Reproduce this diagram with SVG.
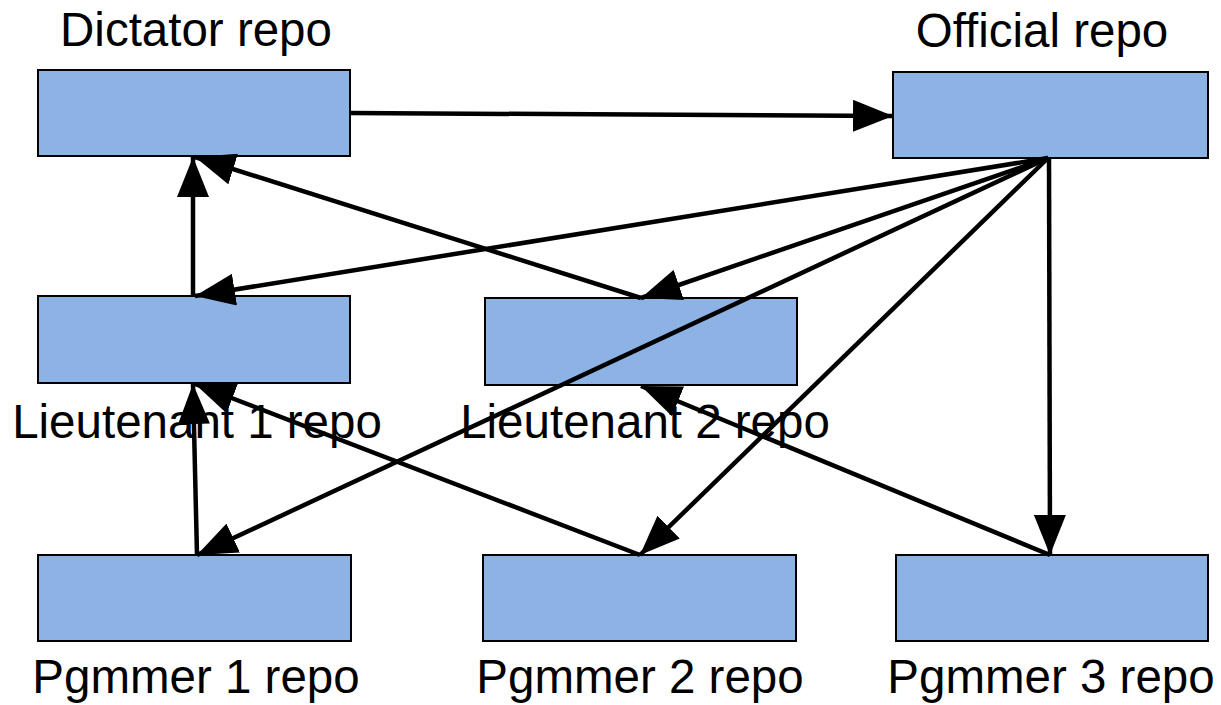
<svg xmlns="http://www.w3.org/2000/svg" width="1221" height="705" viewBox="0 0 1221 705">
<style>
.box{fill:#8db2e4;stroke:#000;stroke-width:2}
.lbl{font-family:"Liberation Sans",Arial,sans-serif;font-size:47.5px;fill:#000;text-anchor:middle}
.c{stroke:#000;stroke-width:4.5;fill:none;marker-end:url(#ah)}
</style>
<defs>
<marker id="ah" viewBox="0 0 40 32" refX="40" refY="16" markerWidth="40" markerHeight="32" markerUnits="userSpaceOnUse" orient="auto">
<path d="M0,0 L40,16 L0,32 Z" fill="#000"/>
</marker>
</defs>
<rect width="1221" height="705" fill="#fff"/>
<g id="dictator"><rect class="box" x="38" y="70" width="312" height="86"/><text class="lbl" x="196" y="46">Dictator repo</text></g>
<g id="official"><rect class="box" x="893" y="72" width="315" height="86"/><text class="lbl" x="1042" y="47">Official repo</text></g>
<g id="lieutenant1"><rect class="box" x="38" y="296" width="312" height="87"/><text class="lbl" x="197" y="438">Lieutenant 1 repo</text></g>
<g id="lieutenant2"><rect class="box" x="485" y="298" width="312" height="87"/><text class="lbl" x="645" y="438">Lieutenant 2 repo</text></g>
<g id="pgmmer1"><rect class="box" x="38" y="555" width="313" height="86"/><text class="lbl" x="196" y="693">Pgmmer 1 repo</text></g>
<g id="pgmmer2"><rect class="box" x="483" y="555" width="313" height="86"/><text class="lbl" x="640" y="693">Pgmmer 2 repo</text></g>
<g id="pgmmer3"><rect class="box" x="896" y="555" width="312" height="86"/><text class="lbl" x="1051" y="693">Pgmmer 3 repo</text></g>
<g id="connectors">
<path class="c" d="M350,113 L893,116"/>
<path class="c" d="M193,296 L193,157"/>
<path class="c" d="M641,298 L195,157"/>
<path class="c" d="M1048,158 L195,296"/>
<path class="c" d="M1048,158 L641,298"/>
<path class="c" d="M1048,158 L197,555"/>
<path class="c" d="M1048,158 L640,555"/>
<path class="c" d="M1049,158 L1050,555"/>
<path class="c" d="M197,555 L193,384"/>
<path class="c" d="M640,555 L195,384"/>
<path class="c" d="M1050,555 L641,386"/>
</g>
</svg>
